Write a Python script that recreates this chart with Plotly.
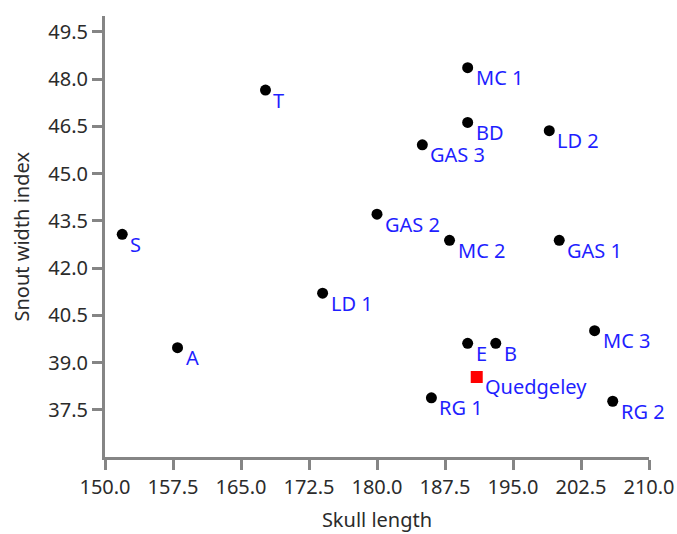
import plotly.graph_objects as go

names = ["T", "S", "GAS 2", "LD 1", "A", "MC 1", "BD", "GAS 3", "LD 2",
         "MC 2", "GAS 1", "E", "B", "MC 3", "RG 1", "RG 2"]
skull_length = [167.7, 151.9, 180.0, 174.0, 158.0, 190.0, 190.0, 185.0, 199.0,
                188.0, 200.1, 190.0, 193.1, 204.0, 186.0, 206.0]
snout_width = [47.65, 43.07, 43.71, 41.2, 39.47, 48.36, 46.62, 45.91, 46.36,
               42.88, 42.88, 39.61, 39.61, 40.01, 37.88, 37.77]

site_name = ["Quedgeley"]
site_x = [191.0]
site_y = [38.54]

x_ticks = [150.0, 157.5, 165.0, 172.5, 180.0, 187.5, 195.0, 202.5, 210.0]
y_ticks = [37.5, 39.0, 40.5, 42.0, 43.5, 45.0, 46.5, 48.0, 49.5]

FONT = "Noto Sans"
BLUE = "#1f1fff"
AXIS = "#858585"
TXT = "#2b2b2b"
FS = 20

fig = go.Figure()
fig.add_trace(go.Scatter(
    x=skull_length, y=snout_width, mode="markers",
    marker=dict(color="black", size=11, symbol="circle"),
    cliponaxis=False, showlegend=False,
))
fig.add_trace(go.Scatter(
    x=site_x, y=site_y, mode="markers",
    marker=dict(color="#ff0000", size=12, symbol="square"),
    cliponaxis=False, showlegend=False,
))

annotations = []
for n, x, y in list(zip(names, skull_length, snout_width)) + list(zip(site_name, site_x, site_y)):
    annotations.append(dict(
        x=x, y=y, xref="x", yref="y", text=n, showarrow=False,
        xanchor="left", yanchor="middle", xshift=6, yshift=-10,
        font=dict(family=FONT, size=FS, color=BLUE),
    ))
# y-axis title
annotations.append(dict(
    x=0, y=0.5, xref="paper", yref="paper", text="Snout width index",
    showarrow=False, textangle=-90, xanchor="center", yanchor="middle",
    xshift=-84, font=dict(family=FONT, size=FS, color=TXT),
))

axis_common = dict(
    showline=True, linecolor=AXIS, linewidth=3, mirror=False,
    ticks="outside", ticklen=10, tickwidth=3, tickcolor=AXIS,
    showgrid=False, zeroline=False, automargin=False,
    tickfont=dict(family=FONT, size=FS, color=TXT),
)

fig.update_layout(
    width=677, height=534,
    margin=dict(l=105, r=28, t=16, b=77),
    paper_bgcolor="white", plot_bgcolor="white",
    font=dict(family=FONT, color=TXT),
    annotations=annotations,
    xaxis=dict(range=[150, 210], tickvals=x_ticks,
               ticktext=[f"{v:.1f}" for v in x_ticks],
               title=dict(text="Skull length", font=dict(family=FONT, size=FS, color=TXT), standoff=14),
               **axis_common),
    yaxis=dict(range=[36, 50], tickvals=y_ticks,
               ticktext=[f"{v:.1f}" for v in y_ticks],
               **axis_common),
)

fig.write_html("out.html")
